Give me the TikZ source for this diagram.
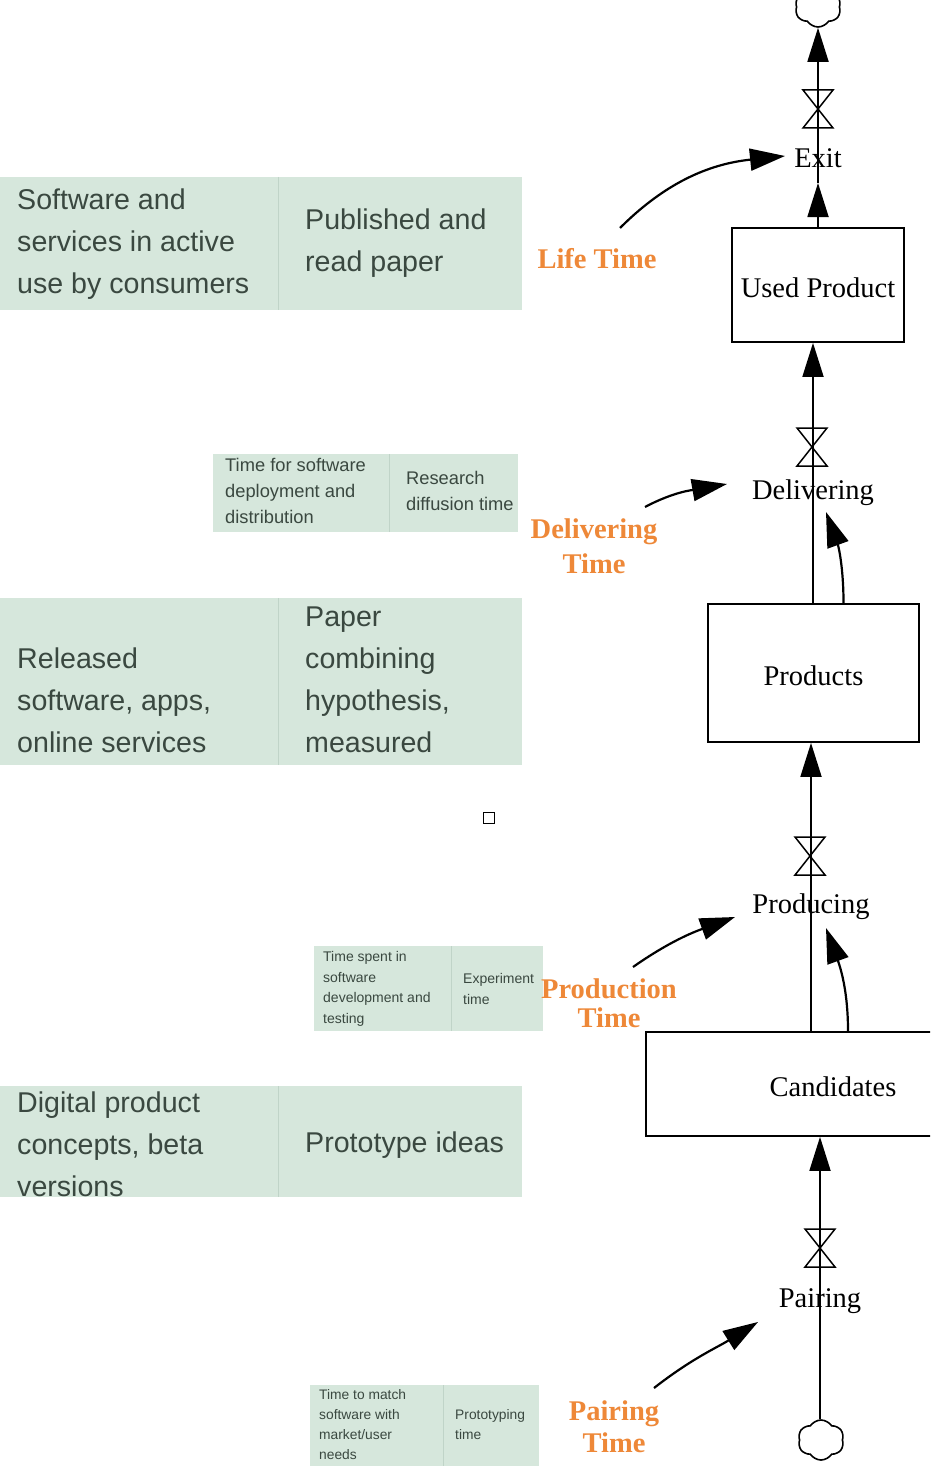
\documentclass[tikz,border=0pt]{standalone}
\usepackage{fontspec}
\setmainfont{Liberation Serif}
\newfontfamily\tabfont{Liberation Sans}
\usetikzlibrary{arrows.meta,shapes.symbols}
\definecolor{cellgreen}{RGB}{214,231,220}
\definecolor{celltext}{RGB}{58,72,64}
\definecolor{celldiv}{RGB}{192,212,200}
\definecolor{orangelbl}{RGB}{238,136,56}
\tikzset{
  cellbox/.style={fill=cellgreen, draw=none, inner sep=0pt, anchor=north west},
  celldivider/.style={draw=celldiv, line width=1pt},
  txtbig/.style={font=\tabfont\fontsize{28.6}{42}\selectfont, text=celltext, align=left, anchor=west, inner sep=0pt},
  txtmid/.style={font=\tabfont\fontsize{18.3}{26}\selectfont, text=celltext, align=left, anchor=west, inner sep=0pt},
  txtsmall/.style={font=\tabfont\fontsize{14}{20.7}\selectfont, text=celltext, align=left, anchor=west, inner sep=0pt},
  txttiny/.style={font=\tabfont\fontsize{13.8}{20}\selectfont, text=celltext, align=left, anchor=west, inner sep=0pt},
  stockbox/.style={draw, line width=1.8pt, inner sep=0pt, text height=25pt, text depth=0pt, font=\fontsize{28.5}{34}\selectfont},
  flowlbl/.style={font=\fontsize{28.5}{34}\selectfont, inner sep=2pt},
  otime/.style={text=orangelbl, align=center, inner sep=0pt},
  pipe/.style={line width=1.8pt},
  pipehead/.style={-{Triangle[length=34pt,width=21pt]}},
  infl/.style={line width=2.2pt, -{Triangle[length=35pt,width=22pt]}},
  cloudsrc/.style={cloud, draw, cloud puffs=6, cloud puff arc=115, aspect=1.15, minimum width=46pt, minimum height=40pt, line width=1.6pt, inner sep=0pt},
  valve/.pic={\draw[line width=1.5pt, line join=miter] (-15,19) -- (15,19) -- (-15,-19) -- (15,-19) -- cycle;}
}
\begin{document}
\begin{tikzpicture}[x=1pt,y=1pt]
\useasboundingbox (0,0) rectangle (930,-1466);
\clip (0,0) rectangle (930,-1466);
\fill[white] (0,0) rectangle (930,-1466);

% ---------- Tables ----------
\node[cellbox, minimum width=522pt, minimum height=133pt] (tab1) at (0,-177) {};
\draw[celldivider] (278,-177) -- (278,-310);
\node[txtbig] (tab1l) at (17,-244.5) {Software and\\services in active\\use by consumers};
\node[txtbig] (tab1r) at (305,-243.5) {Published and\\read paper};

\node[cellbox, minimum width=305pt, minimum height=78pt] (tab2) at (213,-454) {};
\draw[celldivider] (389,-454) -- (389,-532);
\node[txtmid] (tab2l) at (225,-491) {Time for software\\deployment and\\distribution};
\node[txtmid] (tab2r) at (406,-491) {Research\\diffusion time};

\node[cellbox, minimum width=522pt, minimum height=167pt] (tab3) at (0,-598) {};
\draw[celldivider] (278,-598) -- (278,-765);
\node[txtbig] (tab3l) at (17,-700) {Released\\software, apps,\\online services};
\node[txtbig] (tab3r) at (305,-679.5) {Paper\\combining\\hypothesis,\\measured};

\node[draw, line width=1.4pt, minimum size=11pt, inner sep=0pt] (sq) at (489,-818) {};

\node[cellbox, minimum width=229pt, minimum height=85pt] (tab4) at (314,-946) {};
\draw[celldivider] (451,-946) -- (451,-1031);
\node[txtsmall] (tab4l) at (323,-989) {Time spent in\\software\\development and\\testing};
\node[txtsmall] (tab4r) at (463,-989) {Experiment\\time};

\node[cellbox, minimum width=522pt, minimum height=111pt] (tab5) at (0,-1086) {};
\draw[celldivider] (278,-1086) -- (278,-1197);
\node[txtbig] (tab5l) at (17,-1144.5) {Digital product\\concepts, beta\\versions};
\node[txtbig] (tab5r) at (305,-1145) {Prototype ideas};

\node[cellbox, minimum width=229pt, minimum height=81pt] (tab6) at (310,-1385) {};
\draw[celldivider] (443,-1385) -- (443,-1466);
\node[txttiny] (tab6l) at (319,-1425) {Time to match\\software with\\market/user\\needs};
\node[txttiny] (tab6r) at (455,-1425) {Prototyping\\time};

% ---------- Stocks ----------
\node[stockbox, minimum width=172pt, minimum height=114pt] (used) at (818,-285) {Used Product};
\node[stockbox, minimum width=211pt, minimum height=138pt] (products) at (813.5,-673) {Products};
\node[stockbox, minimum width=374pt, minimum height=104pt] (cand) at (833,-1084) {Candidates};

% ---------- Clouds ----------
\node[cloudsrc] (cloudT) at (818,-7) {};
\node[cloudsrc] (cloudB) at (821,-1440) {};

% ---------- Flow labels ----------
\node[flowlbl] (exit) at (818,-158) {Exit};
\node[flowlbl] (delivering) at (813,-493) {Delivering};
\node[flowlbl] (producing) at (811,-907) {Producing};
\node[flowlbl] (pairing) at (820,-1301) {Pairing};

% ---------- Valves ----------
\pic at (818,-109) {valve};
\pic at (812,-447) {valve};
\pic at (810,-856) {valve};
\pic at (820,-1248) {valve};

% ---------- Pipes ----------
\coordinate (exitTip) at (818,-183);
\draw[pipe, pipehead] (used.north) -- (exitTip);
\draw[pipe, pipehead] (exitTip) -- (cloudT.south);
\draw[pipe, pipehead] (delivering.center |- products.north) -- (delivering.center |- used.south);
\draw[pipe, pipehead] (producing.center |- cand.north) -- (producing.center |- products.south);
\draw[pipe, pipehead] (pairing.center |- cloudB.north) -- (pairing.center |- cand.south);

% ---------- Orange time labels ----------
\node[otime, font=\bfseries\fontsize{28.5}{35}\selectfont] (lifeT) at (597,-259) {Life Time};
\node[otime, font=\bfseries\fontsize{28.5}{35}\selectfont] (delivT) at (594,-546.5) {Delivering\\Time};
\node[otime, font=\bfseries\fontsize{28.5}{29}\selectfont] (prodT) at (609,-1003.5) {Production\\Time};
\node[otime, font=\bfseries\fontsize{28.5}{32}\selectfont] (pairT) at (614,-1427) {Pairing\\Time};

% ---------- Influence arrows ----------
\coordinate (lifeS) at (620,-228);
\coordinate (lifeE) at (785,-156);
\draw[infl] (lifeS) to[out=45,in=186] (lifeE);
\coordinate (delS) at (645,-507);
\coordinate (delE) at (727,-484);
\draw[infl] (delS) to[out=28,in=190] (delE);
\coordinate (proS) at (633,-967);
\coordinate (proE) at (735,-917);
\draw[infl] (proS) to[out=35,in=200] (proE);
\coordinate (paiS) at (654,-1388);
\coordinate (paiE) at (758,-1322);
\draw[infl] (paiS) to[out=38,in=212] (paiE);

% ---------- Feedback arrows ----------
\coordinate (fb1E) at (826,-512);
\draw[infl] ([xshift=30pt]products.north) to[out=90,in=-70] (fb1E);
\coordinate (fb2E) at (826,-928);
\draw[infl] ([xshift=15pt]cand.north) to[out=90,in=-70] (fb2E);
\end{tikzpicture}
\end{document}
